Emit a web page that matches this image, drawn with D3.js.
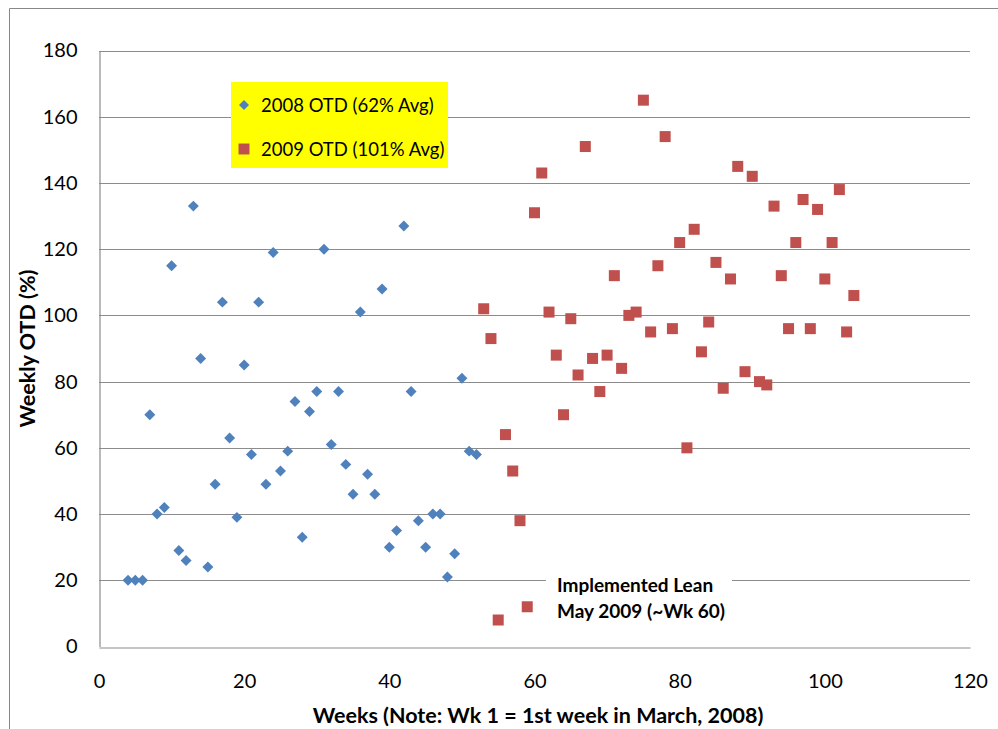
<!DOCTYPE html>
<html>
<head>
<meta charset="utf-8">
<script src="https://cdn.jsdelivr.net/npm/d3@7"></script>
<style>
  body { margin: 0; background: #fff; }
  svg { display: block; font-family: Lato, "Open Sans", sans-serif; }
</style>
</head>
<body>
<div id="chart"></div>
<script>
// 2008 weekly on-time delivery (weeks 4-52)
const weeks2008 = [4, 5, 6, 7, 8, 9, 10, 11, 12, 13, 14, 15, 16, 17, 18, 19, 20, 21, 22, 23, 24, 25, 26, 27, 28,
  29, 30, 31, 32, 33, 34, 35, 36, 37, 38, 39, 40, 41, 42, 43, 44, 45, 46, 47, 48, 49, 50, 51, 52];
const otd2008 = [20, 20, 20, 70, 40, 42, 115, 29, 26, 133, 87, 24, 49, 104, 63, 39, 85, 58, 104, 49, 119, 53, 59, 74, 33,
  71, 77, 120, 61, 77, 55, 46, 101, 52, 46, 108, 30, 35, 127, 77, 38, 30, 40, 40, 21, 28, 81, 59, 58];

// 2009 weekly on-time delivery (weeks 53-104)
const weeks2009 = [53, 54, 55, 56, 57, 58, 59, 60, 61, 62, 63, 64, 65, 66, 67, 68, 69, 70, 71, 72, 73, 74, 75, 76, 77, 78,
  79, 80, 81, 82, 83, 84, 85, 86, 87, 88, 89, 90, 91, 92, 93, 94, 95, 96, 97, 98, 99, 100, 101, 102, 103, 104];
const otd2009 = [102, 93, 8, 64, 53, 38, 12, 131, 143, 101, 88, 70, 99, 82, 151, 87, 77, 88, 112, 84, 100, 101, 165, 95, 115, 154,
  96, 122, 60, 126, 89, 98, 116, 78, 111, 145, 83, 142, 80, 79, 133, 112, 96, 122, 135, 96, 132, 111, 122, 138, 95, 106];

const xTicks = [0, 20, 40, 60, 80, 100, 120];
const yTicks = [0, 20, 40, 60, 80, 100, 120, 140, 160, 180];
const seriesNames = ['2008 OTD (62% Avg)', '2009 OTD (101% Avg)'];
const noteLines = ['Implemented Lean', 'May 2009 (~Wk 60)'];

const width = 998, height = 729;
const margin = { left: 99, right: 28, top: 50.5, bottom: 82.5 };

const svg = d3.select('#chart').append('svg')
  .attr('width', width)
  .attr('height', height);

// outer chart frame
svg.append('path')
  .attr('d', `M9.5,${height} V8.5 H${width}`)
  .attr('fill', 'none')
  .attr('stroke', '#888')
  .attr('stroke-width', 1);

const x = d3.scaleLinear().domain([0, 120]).range([margin.left, width - margin.right]);
const y = d3.scaleLinear().domain([0, 180]).range([height - margin.bottom, margin.top]);

// gridlines
svg.append('g')
  .selectAll('line')
  .data(yTicks.slice(1))
  .join('line')
    .attr('x1', x(0))
    .attr('x2', x(120))
    .attr('y1', d => Math.round(y(d)) + 0.5)
    .attr('y2', d => Math.round(y(d)) + 0.5)
    .attr('stroke', '#8c8c8c')
    .attr('stroke-width', 1.2);

// axes
const xAxis = svg.append('g')
  .attr('transform', `translate(0,${Math.round(y(0)) + 0.5})`)
  .call(d3.axisBottom(x).tickValues(xTicks).tickSize(0).tickPadding(26));
const yAxis = svg.append('g')
  .attr('transform', `translate(${x(0) + 0.5},0)`)
  .call(d3.axisLeft(y).tickValues(yTicks).tickSize(0).tickPadding(22));

[xAxis, yAxis].forEach(g => {
  g.select('.domain').attr('stroke', '#8c8c8c').attr('stroke-width', 1.2);
  g.selectAll('text').attr('font-family', 'Lato, "Open Sans", sans-serif')
    .attr('font-size', 20).attr('fill', '#000');
});

// axis titles
svg.append('text')
  .attr('x', 538)
  .attr('y', 723)
  .attr('text-anchor', 'middle')
  .attr('font-size', 21.5)
  .attr('font-weight', 'bold')
  .text('Weeks (Note: Wk 1 = 1st week in March, 2008)');

svg.append('text')
  .attr('transform', `translate(35,${(y(0) + y(180)) / 2}) rotate(-90)`)
  .attr('text-anchor', 'middle')
  .attr('font-size', 21.5)
  .attr('font-weight', 'bold')
  .text('Weekly OTD (%)');

const blue = '#4f81bd', red = '#c0504d';
const diamond = d3.symbol().type(d3.symbolSquare).size(60);

svg.append('g')
  .selectAll('path')
  .data(weeks2008.map((w, i) => [w, otd2008[i]]))
  .join('path')
    .attr('d', diamond)
    .attr('transform', d => `translate(${x(d[0])},${y(d[1])}) rotate(45)`)
    .attr('fill', blue);

svg.append('g')
  .selectAll('rect')
  .data(weeks2009.map((w, i) => [w, otd2009[i]]))
  .join('rect')
    .attr('x', d => x(d[0]) - 5.5)
    .attr('y', d => y(d[1]) - 5.5)
    .attr('width', 11)
    .attr('height', 11)
    .attr('fill', red);

// annotation (white box breaks the 20% gridline)
const note = svg.append('g');
note.append('rect')
  .attr('x', 546).attr('y', 568)
  .attr('width', 186).attr('height', 56)
  .attr('fill', '#fff');
note.selectAll('text')
  .data(noteLines)
  .join('text')
    .attr('x', 557)
    .attr('y', (d, i) => 592 + i * 26)
    .attr('font-size', 19)
    .attr('font-weight', 'bold')
    .text(d => d);

// legend
const legend = svg.append('g');
legend.append('rect')
  .attr('x', 231).attr('y', 82)
  .attr('width', 217).attr('height', 86)
  .attr('fill', '#ffff00');
const items = legend.selectAll('g')
  .data(seriesNames)
  .join('g')
    .attr('transform', (d, i) => `translate(244,${105 + i * 44})`);
items.append('path')
  .attr('d', (d, i) => d3.symbol().type(d3.symbolSquare).size(i === 0 ? 50 : 120)())
  .attr('transform', (d, i) => i === 0 ? 'rotate(45)' : null)
  .attr('fill', (d, i) => i === 0 ? blue : red);
items.append('text')
  .attr('x', 17)
  .attr('y', 7)
  .attr('font-size', 18.5)
  .text(d => d);
</script>
</body>
</html>
